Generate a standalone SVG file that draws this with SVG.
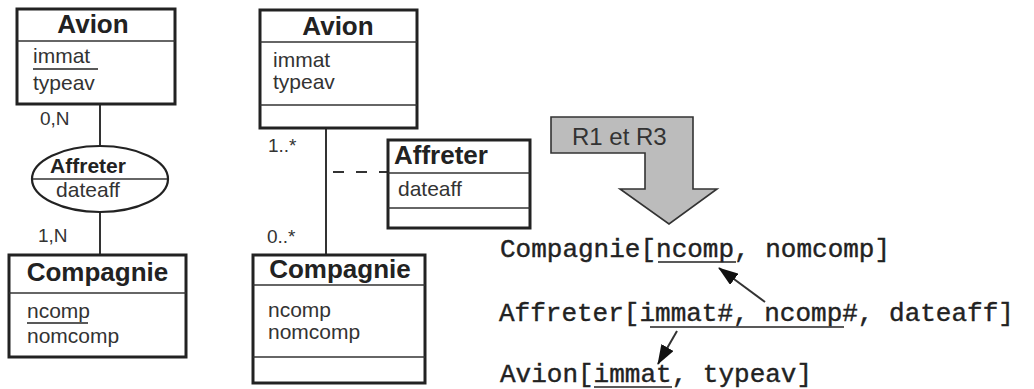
<svg xmlns="http://www.w3.org/2000/svg" width="1034" height="389" viewBox="0 0 1034 389">
  <style>
    .box { fill: #fff; stroke: #222; stroke-width: 3; }
    .div { stroke: #333; stroke-width: 1.6; fill: none; }
    .link { stroke: #333; stroke-width: 2; fill: none; }
    .title { font-family: "Liberation Sans", Arial, sans-serif; font-weight: bold; fill: #222; }
    .attr { font-family: "Liberation Sans", Arial, sans-serif; font-size: 21px; fill: #333; }
    .card { font-family: "Liberation Sans", Arial, sans-serif; font-size: 19px; fill: #333; }
    .rel { font-family: "Liberation Mono", "Courier New", monospace; font-size: 26px; fill: #222; stroke: #222; stroke-width: 0.4; }
    .ul { stroke: #222; stroke-width: 1.6; }
  </style>
  <defs>
    <marker id="head" viewBox="0 0 20 14" refX="19" refY="7" markerWidth="20" markerHeight="14" markerUnits="userSpaceOnUse" orient="auto">
      <path d="M0,0 L20,7 L0,14 Z" fill="#111"/>
    </marker>
  </defs>

  <rect width="1034" height="389" fill="#fff"/>

  <!-- connectors -->
  <g id="connectors">
    <line class="link" x1="100" y1="104" x2="100" y2="146"/>
    <line class="link" x1="100" y1="212" x2="100" y2="255"/>
    <line class="link" x1="326" y1="128" x2="326" y2="255"/>
    <line class="link" x1="333" y1="172" x2="388" y2="172" stroke-dasharray="11 12"/>
    <line class="link" x1="765" y1="302" x2="719" y2="268" marker-end="url(#head)"/>
    <line class="link" x1="677" y1="331" x2="658" y2="364" marker-end="url(#head)"/>
  </g>

  <!-- Merise: Avion entity -->
  <g id="merise-avion">
    <rect class="box" x="17" y="9" width="158" height="95"/>
    <line class="div" x1="17" y1="41" x2="175" y2="41"/>
    <text class="title" x="93" y="33" font-size="26" text-anchor="middle">Avion</text>
    <text class="attr" x="33" y="63">immat</text>
    <line class="ul" x1="33" y1="69" x2="98" y2="69"/>
    <text class="attr" x="33" y="90">typeav</text>
  </g>

  <!-- Merise: Affreter association -->
  <g id="merise-affreter">
    <ellipse cx="100" cy="179" rx="68" ry="33" fill="#fff" stroke="#222" stroke-width="2.2"/>
    <line class="div" x1="33" y1="179" x2="167" y2="179"/>
    <text class="title" x="88" y="173" font-size="21" text-anchor="middle">Affreter</text>
    <text class="attr" x="88" y="197" text-anchor="middle">dateaff</text>
    <text class="card" x="40" y="125">0,N</text>
    <text class="card" x="38" y="242">1,N</text>
  </g>

  <!-- Merise: Compagnie entity -->
  <g id="merise-compagnie">
    <rect class="box" x="9" y="255" width="177" height="102"/>
    <line class="div" x1="9" y1="293" x2="186" y2="293"/>
    <text class="title" x="97.5" y="281" font-size="26" text-anchor="middle">Compagnie</text>
    <text class="attr" x="27" y="318">ncomp</text>
    <line class="ul" x1="27" y1="323" x2="88" y2="323"/>
    <text class="attr" x="27" y="343">nomcomp</text>
  </g>

  <!-- UML: Avion class -->
  <g id="uml-avion">
    <rect class="box" x="260" y="10" width="157" height="118"/>
    <line class="div" x1="260" y1="42" x2="417" y2="42"/>
    <line class="div" x1="260" y1="105" x2="417" y2="105"/>
    <text class="title" x="338" y="35" font-size="26" text-anchor="middle">Avion</text>
    <text class="attr" x="273" y="67">immat</text>
    <text class="attr" x="273" y="89">typeav</text>
    <text class="card" x="268" y="152">1..*</text>
    <text class="card" x="267" y="243">0..*</text>
  </g>

  <!-- UML: Affreter association class -->
  <g id="uml-affreter">
    <rect class="box" x="388" y="140" width="142" height="88"/>
    <line class="div" x1="388" y1="173" x2="530" y2="173"/>
    <line class="div" x1="388" y1="208" x2="530" y2="208"/>
    <text class="title" x="394" y="164" font-size="26">Affreter</text>
    <text class="attr" x="398" y="196">dateaff</text>
  </g>

  <!-- UML: Compagnie class -->
  <g id="uml-compagnie">
    <rect class="box" x="253" y="255" width="172" height="128"/>
    <line class="div" x1="253" y1="285" x2="425" y2="285"/>
    <line class="div" x1="253" y1="357" x2="425" y2="357"/>
    <text class="title" x="340" y="278" font-size="26" text-anchor="middle">Compagnie</text>
    <text class="attr" x="268" y="317" font-size="20">ncomp</text>
    <text class="attr" x="268" y="339" font-size="20">nomcomp</text>
  </g>

  <!-- transformation arrow -->
  <g id="rules-arrow">
    <polygon points="551,117 693,117 693,189 717,189 669,224 620,189 645,189 645,153 551,153" fill="#bcbcbc" stroke="#333" stroke-width="1.6"/>
    <text x="572" y="145" font-family="Liberation Sans, Arial, sans-serif" font-size="24" fill="#333">R1 et R3</text>
  </g>

  <!-- relational schema -->
  <g id="relations">
    <text class="rel" x="500" y="257">Compagnie[ncomp, nomcomp]</text>
    <line class="ul" x1="658" y1="262" x2="736" y2="262"/>
    <text class="rel" x="499" y="321">Affreter[immat#, ncomp#, dateaff]</text>
    <line class="ul" x1="650" y1="327" x2="844" y2="327"/>
    <text class="rel" x="500" y="382">Avion[immat, typeav]</text>
    <line class="ul" x1="594" y1="387" x2="672" y2="387"/>
  </g>
</svg>
